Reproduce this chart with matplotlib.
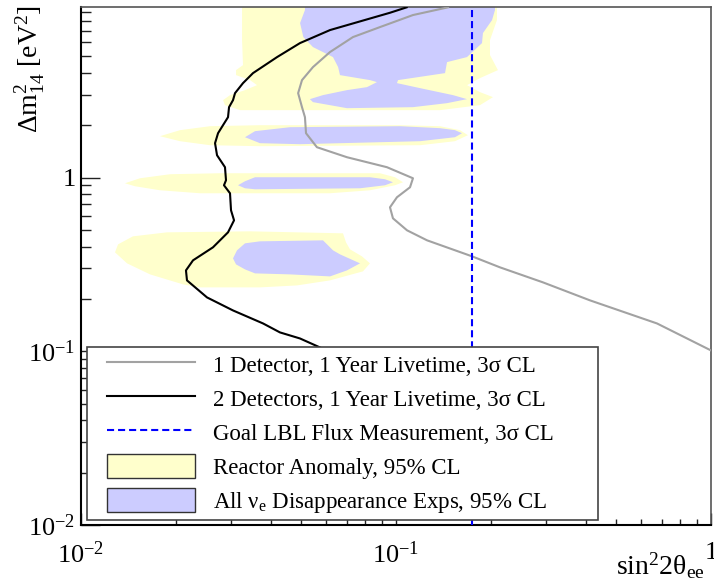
import numpy as np
import matplotlib
matplotlib.use("Agg")
import matplotlib.pyplot as plt
from matplotlib.patches import Patch
from matplotlib.lines import Line2D
from matplotlib.legend_handler import HandlerLine2D, HandlerPatch
from matplotlib.ticker import FuncFormatter, FixedLocator, LogLocator, NullFormatter

plt.rcParams['font.family'] = ['Liberation Serif', 'DejaVu Serif']
plt.rcParams['mathtext.fontset'] = 'custom'
plt.rcParams['mathtext.rm'] = 'Liberation Serif'
plt.rcParams['mathtext.it'] = 'Liberation Serif:italic'
plt.rcParams['mathtext.bf'] = 'Liberation Serif:bold'
plt.rcParams['mathtext.default'] = 'regular'

# ---------------- data (sin^2 2theta_ee , dm^2_14 [eV^2]) ----------------
# 2 detectors, 1 year, 3 sigma sensitivity
two_det_x = [0.1081, 0.09571, 0.06174, 0.04957, 0.04192, 0.03516, 0.03268, 0.03083,
             0.03038, 0.02951, 0.02929, 0.02824, 0.02723, 0.02664, 0.02703, 0.02865,
             0.02886, 0.02844, 0.02972, 0.02994, 0.03061, 0.02929, 0.02624, 0.02268,
             0.02154, 0.02170, 0.02512, 0.03038, 0.03784, 0.04282, 0.04957, 0.05738, 0.0769]
two_det_y = [9.546, 8.885, 7.063, 5.943, 4.936, 3.992, 3.496, 3.061,
             2.790, 2.542, 2.226, 2.002, 1.800, 1.577, 1.344, 1.147,
             0.9648, 0.9028, 0.8120, 0.6478, 0.5673, 0.4838, 0.3966, 0.3338,
             0.2922, 0.2559, 0.2042, 0.1718, 0.1446, 0.1284, 0.1185, 0.1052, 0.0775]

# 1 detector, 1 year, 3 sigma sensitivity
one_det_x = [0.1463, 0.1132, 0.0890, 0.0730, 0.0617, 0.0545, 0.0503, 0.0489, 0.0503,
             0.0514, 0.0518, 0.0561, 0.0699, 0.0936, 0.1132, 0.1108, 0.1007, 0.0957,
             0.0978, 0.1084, 0.1255, 0.1743, 0.2139, 0.2929, 0.4131, 0.6739, 1.0]
one_det_y = [9.546, 8.618, 7.350, 6.436, 5.275, 4.323, 3.638, 3.061, 2.542,
             2.226, 1.800, 1.495, 1.309, 1.147, 0.9907, 0.8793, 0.7700, 0.6743,
             0.5825, 0.4969, 0.4351, 0.352, 0.3041, 0.2492, 0.1963, 0.1446, 0.1011]

# goal LBL flux measurement
lbl_flux_x = 0.1743

# Reactor anomaly 95% CL islands
ra1_x = [0.03245, 0.2092, 0.2092, 0.1988, 0.1988, 0.2107, 0.1848, 0.1681, 0.1848, 0.2032,
         0.1848, 0.1379, 0.03198, 0.02865, 0.02824, 0.02972, 0.03316, 0.03621, 0.03440,
         0.03106, 0.03106, 0.03268, 0.03245]
ra1_y = [10.0, 10.0, 8.065, 6.185, 5.069, 4.154, 3.736, 3.404, 3.102, 2.903,
         2.611, 2.443, 2.443, 2.611, 2.790, 2.981, 3.186, 3.404, 3.638,
         3.887, 4.154, 4.439, 6.185]
ra2_x = [0.01781, 0.02062, 0.02568, 0.03700, 0.1030, 0.1379, 0.1596, 0.1692, 0.1539,
         0.1192, 0.03700, 0.02568, 0.02062]
ra2_y = [1.730, 1.874, 1.975, 2.002, 2.002, 1.975, 1.874, 1.753, 1.619,
         1.535, 1.515, 1.535, 1.619]
ra3_x = [0.01379, 0.01539, 0.01917, 0.02762, 0.08896, 0.09927, 0.1053, 0.09927, 0.08269,
         0.06174, 0.02387, 0.01781, 0.01484]
ra3_y = [0.9271, 0.9907, 1.045, 1.059, 1.059, 1.004, 0.9395, 0.9028, 0.8449,
         0.8120, 0.8120, 0.8449, 0.8910]
ra4_x = [0.01282, 0.01311, 0.01462, 0.01875, 0.03440, 0.06788, 0.06939, 0.07145, 0.07799,
         0.08269, 0.07856, 0.06174, 0.04852, 0.03700, 0.02387, 0.02108, 0.01656, 0.01400]
ra4_y = [0.3711, 0.4126, 0.4589, 0.4838, 0.4903, 0.4775, 0.4237, 0.3862, 0.3518,
         0.3207, 0.2884, 0.2559, 0.2394, 0.2332, 0.2332, 0.2427, 0.2771, 0.3207]

# All nu_e disappearance experiments 95% CL islands
de1_x = [0.0514, 0.2062, 0.2062, 0.2018, 0.1888, 0.1875, 0.1680, 0.1452, 0.1431, 0.1015,
         0.1007, 0.1192, 0.1517, 0.1680, 0.1452, 0.1132, 0.0699, 0.0545, 0.0533, 0.0586,
         0.0699, 0.0809, 0.0870, 0.0827, 0.0664, 0.0655, 0.0631, 0.0545, 0.0508, 0.0496, 0.0514]
de1_y = [10.0, 10.0, 9.210, 8.065, 6.787, 5.943, 4.936, 4.619, 3.992, 3.638,
         3.496, 3.271, 2.981, 2.827, 2.681, 2.542, 2.508, 2.717, 2.827, 2.981,
         3.186, 3.315, 3.543, 3.638, 3.887, 4.323, 4.936, 5.637, 6.436, 7.750, 9.210]
de2_x = [0.03316, 0.03568, 0.04608, 0.1030, 0.1379, 0.1539, 0.1620, 0.1539, 0.1192,
         0.04957, 0.03700]
de2_y = [1.707, 1.849, 1.949, 1.975, 1.924, 1.874, 1.800, 1.707, 1.619, 1.556, 1.577]
de3_x = [0.03151, 0.03316, 0.03568, 0.08269, 0.09227, 0.09783, 0.09227, 0.07687, 0.03568, 0.03316]
de3_y = [0.9028, 0.9521, 1.004, 1.004, 0.9777, 0.9395, 0.9028, 0.8676, 0.8561, 0.8676]
de4_x = [0.03038, 0.03128, 0.03316, 0.03700, 0.05864, 0.06310, 0.06641, 0.07687, 0.06990,
         0.06174, 0.04608, 0.03568, 0.03316, 0.03106]
de4_y = [0.3425, 0.3811, 0.4181, 0.4294, 0.4351, 0.3811, 0.3613, 0.3207, 0.2922,
         0.2698, 0.2771, 0.2808, 0.2961, 0.3164]

labels = ["1 Detector, 1 Year Livetime, 3σ CL",
          "2 Detectors, 1 Year Livetime, 3σ CL",
          "Goal LBL Flux Measurement, 3σ CL",
          "Reactor Anomaly, 95% CL",
          r"All ν$_{\mathrm{e}}$ Disappearance Exps, 95% CL"]

# ---------------- style ----------------
YELLOW = '#FFFFCC'
PURPLE = '#CCCCFF'
GRAY = '#a2a2a2'
DASH = (0, (3.4, 1.9))

fig = plt.figure(figsize=(7.14, 5.88), dpi=100)
ax = fig.add_axes([81/714, 63/588, 630/714, 517.7/588])
ax.set_xscale('log')
ax.set_yscale('log')

for xs, ys in [(ra1_x, ra1_y), (ra2_x, ra2_y), (ra3_x, ra3_y), (ra4_x, ra4_y)]:
    ax.fill(xs, ys, color=YELLOW, lw=0, zorder=1)
for xs, ys in [(de1_x, de1_y), (de2_x, de2_y), (de3_x, de3_y), (de4_x, de4_y)]:
    ax.fill(xs, ys, color=PURPLE, lw=0, zorder=2)

ax.plot(one_det_x, one_det_y, color=GRAY, lw=1.5, zorder=3)
ax.plot(two_det_x, two_det_y, color='black', lw=1.5, zorder=4)
ax.axvline(lbl_flux_x, color='#0000ff', lw=1.5, ls=DASH, zorder=5)

ax.set_xlim(0.01, 1)
ax.set_ylim(0.01, 9.55)

def fmt(v, pos):
    e = int(round(np.log10(v)))
    return '1' if e == 0 else r'$10^{%d}$' % e

ax.xaxis.set_major_locator(FixedLocator([0.01, 0.1, 1]))
ax.yaxis.set_major_locator(FixedLocator([0.01, 0.1, 1]))
ax.xaxis.set_major_formatter(FuncFormatter(fmt))
ax.yaxis.set_major_formatter(FuncFormatter(fmt))
ax.xaxis.set_minor_locator(LogLocator(base=10, subs=np.arange(2, 10)))
ax.yaxis.set_minor_locator(LogLocator(base=10, subs=np.arange(2, 10)))
ax.xaxis.set_minor_formatter(NullFormatter())
ax.yaxis.set_minor_formatter(NullFormatter())

ax.tick_params(axis='y', which='major', direction='in', length=14, width=1.0,
               pad=4, labelsize=19, right=False, color='#222222')
ax.tick_params(axis='y', which='minor', direction='in', length=7, width=1.0,
               right=False, color='#222222')
ax.tick_params(axis='x', which='major', direction='in', length=9, width=1.0,
               pad=12, labelsize=19, top=False, color='#222222')
ax.tick_params(axis='x', which='minor', direction='in', length=4.5, width=1.0,
               top=False, color='#222222')

for s in ['left', 'bottom']:
    ax.spines[s].set_color('black')
    ax.spines[s].set_linewidth(1.5)
for s in ['top', 'right']:
    ax.spines[s].set_color('#555555')
    ax.spines[s].set_linewidth(1.2)

ax.set_xlabel(r"sin$^{2}$2θ$_{\mathrm{ee}}$", fontsize=20, ha='right', va='baseline')
ax.xaxis.set_label_coords(0.9905, -0.0966)
ax.set_ylabel(r"Δm$^{2}_{14}$ [eV$^{2}$]", fontsize=20, ha='right', va='center')
ax.yaxis.set_label_coords(-0.081, 1.004)

# ---------------- legend ----------------
h1 = Line2D([], [], color=GRAY, lw=1.5)
h2 = Line2D([], [], color='black', lw=1.5)
h3 = Line2D([], [], color='#0000ff', lw=1.5, ls=DASH)
h4 = Patch(facecolor=YELLOW, edgecolor='#333333', lw=1.0)
h5 = Patch(facecolor=PURPLE, edgecolor='#333333', lw=1.0)
xp = 0.66
hmap = {h1: HandlerLine2D(xpad=xp), h2: HandlerLine2D(xpad=xp), h3: HandlerLine2D(xpad=xp),
        h4: HandlerPatch(xpad=xp), h5: HandlerPatch(xpad=xp)}
leg = ax.legend([h1, h2, h3, h4, h5], labels, handler_map=hmap,
                loc='upper left', bbox_to_anchor=(0.0095, 0.0097, 0.8111, 0.3341),
                mode='expand', borderaxespad=0, borderpad=0.22, fontsize=16.5,
                handlelength=4.5, handleheight=1.2, handletextpad=0.8,
                labelspacing=0.42, fancybox=False, framealpha=1, edgecolor='#444444')
leg.get_frame().set_linewidth(1.2)
leg.set_zorder(10)

fig.savefig('out.png', dpi=100)
